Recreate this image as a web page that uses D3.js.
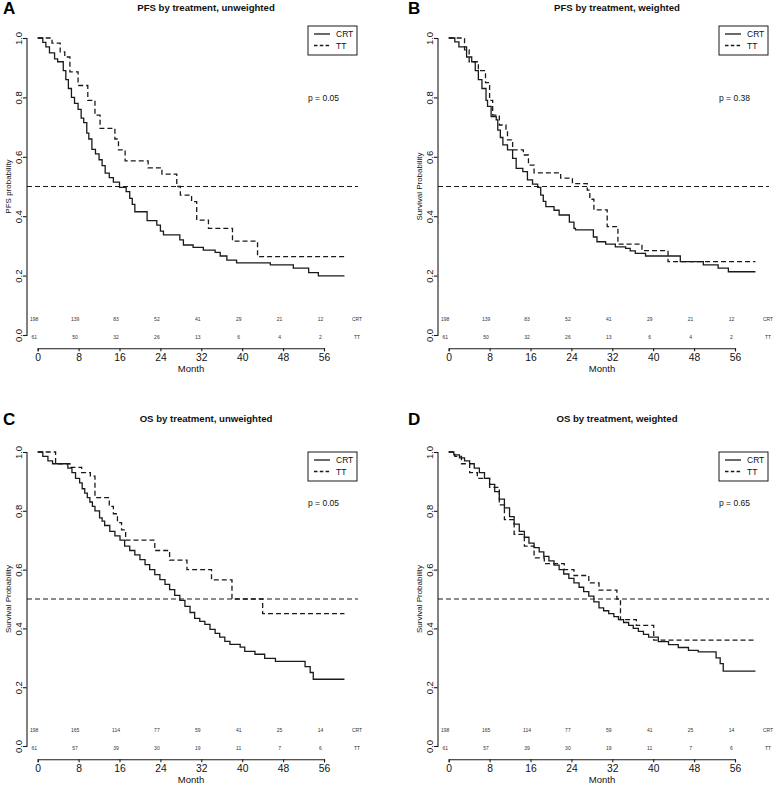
<!DOCTYPE html>
<html><head><meta charset="utf-8">
<script src="https://cdn.jsdelivr.net/npm/d3@7"></script>
<style>
body{margin:0;background:#fff;}
svg{display:block;}
text{font-family:"Liberation Sans", Arial, sans-serif; fill:#111;}
</style>
</head><body><svg id="chart" width="777" height="785"></svg>
<script>
// ---------- data ----------
const monthTicks = [0, 8, 16, 24, 32, 40, 48, 56];
const probTicks = [0, 0.2, 0.4, 0.6, 0.8, 1.0];
const panelLetters = ["A", "B", "C", "D"];
const panelTitles = ["PFS by treatment, unweighted", "PFS by treatment, weighted",
                     "OS by treatment, unweighted", "OS by treatment, weighted"];
const yAxisLabels = ["PFS probability", "Survival Probability", "Survival Probability", "Survival Probability"];
const pValues = ["p = 0.05", "p = 0.38", "p = 0.05", "p = 0.65"];
const seriesNames = ["CRT", "TT"];
const referenceLevel = 0.5;

// numbers at risk at monthTicks
const riskPFS_CRT = [198, 139, 83, 52, 41, 29, 21, 12];
const riskPFS_TT  = [61, 50, 32, 26, 13, 6, 4, 2];
const riskOS_CRT  = [198, 165, 114, 77, 59, 41, 25, 14];
const riskOS_TT   = [61, 57, 39, 30, 19, 11, 7, 6];

// Kaplan-Meier steps: [month, survival after step]
const pfsUnwCRT = [[0,1],[1,0.985],[1.6,0.97],[2.3,0.95],[3.3,0.93],[3.9,0.92],[5,0.89],[5.5,0.86],[6,0.83],[6.6,0.8],[7.2,0.78],[7.9,0.76],[8.5,0.73],[9,0.715],[9.6,0.68],[10,0.66],[10.6,0.625],[11.3,0.61],[12,0.59],[12.6,0.57],[13.2,0.545],[14,0.53],[14.8,0.515],[16,0.497],[17.3,0.483],[18,0.46],[18.5,0.44],[19,0.415],[21.4,0.385],[23.3,0.37],[24,0.35],[24.6,0.337],[27.8,0.32],[28.5,0.303],[30.4,0.295],[32.4,0.286],[34.7,0.278],[35.7,0.266],[37,0.252],[38.9,0.243],[45.5,0.236],[50,0.225],[53,0.21],[54.9,0.199],[60,0.199]];
const pfsUnwTT = [[0,1],[2.8,0.983],[4.4,0.953],[5.3,0.936],[6.3,0.886],[7.9,0.84],[9.8,0.79],[11.2,0.74],[12.2,0.696],[15.1,0.66],[15.8,0.623],[17.1,0.586],[21.6,0.563],[24.3,0.542],[27.2,0.5],[27.9,0.471],[30.1,0.449],[31.1,0.387],[33.4,0.359],[38.1,0.316],[43,0.264],[60,0.264]];
const pfsWtdCRT = [[0,1],[1.2,0.987],[2,0.97],[3.5,0.936],[4.5,0.92],[5.2,0.89],[5.8,0.86],[6.5,0.83],[7.3,0.79],[7.6,0.77],[8.3,0.735],[9.3,0.724],[9.6,0.69],[10.1,0.665],[10.6,0.64],[11.5,0.623],[12.5,0.595],[13.2,0.561],[14.5,0.55],[15.4,0.522],[16.4,0.508],[17.4,0.497],[18,0.471],[18.5,0.45],[19,0.432],[20.6,0.42],[21.6,0.404],[23.6,0.38],[24.5,0.359],[24.8,0.354],[28.3,0.33],[29,0.314],[30.7,0.306],[32.6,0.297],[34.6,0.292],[35.5,0.283],[36.5,0.275],[38.5,0.266],[45.3,0.247],[49.8,0.236],[52.7,0.225],[54.7,0.213],[60,0.213]];
const pfsWtdTT = [[0,1],[3.1,0.96],[4,0.92],[5.8,0.89],[7.2,0.85],[8,0.79],[8.6,0.74],[9.9,0.707],[11.2,0.69],[11.5,0.657],[12.5,0.623],[14.6,0.606],[15.6,0.572],[16.7,0.546],[21.9,0.528],[24.2,0.51],[27.1,0.488],[27.6,0.457],[28.4,0.421],[31,0.365],[33.1,0.306],[37.8,0.284],[42.9,0.247],[60,0.247]];
const osUnwCRT = [[0,1],[1,0.985],[2,0.97],[2.9,0.96],[5.9,0.945],[6.7,0.93],[7.4,0.91],[8.2,0.895],[8.7,0.875],[9.2,0.86],[9.7,0.845],[10.2,0.83],[10.7,0.815],[11.2,0.8],[12.1,0.776],[12.6,0.765],[13.1,0.75],[14.1,0.73],[15.1,0.715],[16.1,0.7],[17,0.68],[18,0.665],[19,0.65],[20,0.634],[21,0.617],[21.9,0.6],[22.9,0.583],[23.9,0.566],[24.9,0.55],[25.8,0.532],[26.8,0.512],[27.8,0.495],[28.8,0.475],[29.8,0.454],[30.7,0.434],[31.7,0.424],[32.7,0.414],[33.7,0.397],[34.7,0.383],[35.6,0.37],[36.6,0.356],[37.6,0.346],[39.6,0.336],[40.5,0.322],[42.5,0.312],[44.4,0.298],[46.5,0.288],[52.3,0.27],[53.3,0.25],[53.9,0.227],[60,0.227]];
const osUnwTT = [[0,1],[3.5,0.96],[6.3,0.948],[8.6,0.93],[10.3,0.918],[11.2,0.845],[14,0.815],[14.8,0.79],[15.6,0.76],[16.4,0.735],[17.2,0.7],[22.9,0.665],[25.8,0.632],[29.2,0.6],[34,0.565],[38,0.5],[44,0.45],[60,0.45]];
const osWtdCRT = [[0,1],[1,0.99],[2.1,0.98],[3.1,0.97],[4.1,0.96],[5,0.945],[6,0.93],[7,0.91],[8,0.89],[9,0.865],[9.9,0.84],[10.9,0.81],[11.9,0.78],[12.8,0.755],[13.8,0.73],[14.8,0.71],[15.7,0.69],[16.7,0.675],[17.7,0.66],[18.6,0.645],[19.6,0.63],[20.6,0.615],[21.6,0.6],[22.5,0.585],[23.5,0.57],[24.5,0.555],[25.5,0.54],[26.4,0.525],[27.4,0.51],[28.4,0.49],[29.4,0.47],[30.3,0.46],[31.3,0.45],[32.3,0.44],[33.2,0.43],[34.2,0.42],[35.2,0.41],[36.1,0.4],[37.1,0.39],[38.1,0.38],[39.1,0.37],[41,0.355],[43,0.345],[44.9,0.335],[46.9,0.325],[48.8,0.32],[52.3,0.3],[53.1,0.28],[53.7,0.255],[60,0.255]];
const osWtdTT = [[0,1],[1.2,0.985],[2.5,0.96],[4.1,0.93],[5.6,0.91],[8,0.88],[9.9,0.82],[10.9,0.77],[12.8,0.72],[14.8,0.68],[16.7,0.64],[18.7,0.62],[22.6,0.6],[24.5,0.58],[27.4,0.555],[29.4,0.53],[32.9,0.5],[33.6,0.43],[36.7,0.41],[40.1,0.36],[60,0.36]];

const panelCRT = [pfsUnwCRT, pfsWtdCRT, osUnwCRT, osWtdCRT];
const panelTT  = [pfsUnwTT, pfsWtdTT, osUnwTT, osWtdTT];
const panelRiskCRT = [riskPFS_CRT, riskPFS_CRT, riskOS_CRT, riskOS_CRT];
const panelRiskTT  = [riskPFS_TT, riskPFS_TT, riskOS_TT, riskOS_TT];

// ---------- drawing ----------
const svg = d3.select("#chart");
const INK = "#1a1a1a";
const DASH = "5,3";

const x = d3.scaleLinear().domain([0, 56]).range([37.7, 324]);
// row-specific vertical scales (in panel-local coordinates)
const yRows = [
  d3.scaleLinear().domain([0, 1]).range([335, 38]),
  d3.scaleLinear().domain([0, 1]).range([335, 41])
];
const legendTop = [26, 41];
const pY = [101, 95];

const colOffset = [0, 411];
const rowOffset = [0, 411];
const letterX = [3, 408];

panelLetters.forEach((L, i) => {
  const col = i % 2, row = Math.floor(i / 2);
  const y = yRows[row];
  const line = d3.line().x(d => x(d[0])).y(d => y(d[1])).curve(d3.curveStepAfter);
  const g = svg.append("g").attr("transform", `translate(${colOffset[col]},${rowOffset[row]})`);

  // panel letter
  svg.append("text").attr("x", letterX[col]).attr("y", rowOffset[row] + 14)
    .attr("font-size", 17).attr("font-weight", "bold").style("fill", "#000").text(L);

  // title
  g.append("text").attr("x", 206).attr("y", 11).attr("text-anchor", "middle")
    .attr("font-size", 9.6).attr("font-weight", "bold").text(panelTitles[i]);

  // y axis
  const ya = g.append("g").attr("transform", "translate(26.5,0)")
    .call(d3.axisLeft(y).tickValues(probTicks).tickSize(3.5).tickFormat(d3.format(".1f")));
  ya.select(".domain").attr("stroke", INK).attr("stroke-width", 1.1);
  ya.selectAll(".tick line").attr("stroke", INK).attr("stroke-width", 1.1);
  ya.selectAll(".tick text").attr("x", 0).attr("dy", 0)
    .attr("transform", "translate(-4.5,0) rotate(-90)")
    .attr("text-anchor", "middle").attr("font-size", 9.5).style("fill", "#111")
    .attr("font-family", '"Liberation Sans", Arial, sans-serif');

  // x axis
  const xa = g.append("g").attr("transform", "translate(0,348.3)")
    .call(d3.axisBottom(x).tickValues(monthTicks).tickSize(3).tickPadding(2));
  xa.select(".domain").attr("stroke", INK).attr("stroke-width", 1.1);
  xa.selectAll(".tick line").attr("stroke", INK).attr("stroke-width", 1.1);
  xa.selectAll(".tick text").attr("font-size", 10.3).style("fill", "#111")
    .attr("font-family", '"Liberation Sans", Arial, sans-serif');

  // axis titles
  g.append("text").attr("x", 191).attr("y", 372).attr("text-anchor", "middle")
    .attr("font-size", 9.5).text("Month");
  g.append("text").attr("transform", `translate(11,${(y(0) + y(1)) / 2}) rotate(-90)`)
    .attr("text-anchor", "middle").attr("font-size", 8).text(yAxisLabels[i]);

  // reference line at 0.5
  g.append("line").attr("x1", 27).attr("x2", 358)
    .attr("y1", y(referenceLevel)).attr("y2", y(referenceLevel))
    .attr("stroke", INK).attr("stroke-width", 1.2).attr("stroke-dasharray", DASH);

  // curves
  g.append("path").datum(panelCRT[i]).attr("d", line).attr("fill", "none")
    .attr("stroke", INK).attr("stroke-width", 1.3);
  g.append("path").datum(panelTT[i]).attr("d", line).attr("fill", "none")
    .attr("stroke", INK).attr("stroke-width", 1.3).attr("stroke-dasharray", DASH);

  // legend
  const lt = legendTop[row];
  const lg = g.append("g");
  lg.append("rect").attr("x", 308).attr("y", lt).attr("width", 49).attr("height", 29)
    .attr("fill", "#fff").attr("stroke", INK).attr("stroke-width", 1);
  [0, 1].forEach(k => {
    const ly = lt + 8 + k * 11.5;
    lg.append("line").attr("x1", 314).attr("x2", 330).attr("y1", ly).attr("y2", ly)
      .attr("stroke", INK).attr("stroke-width", 1.3)
      .attr("stroke-dasharray", k === 1 ? "3.5,2.3" : null);
    lg.append("text").attr("x", 336).attr("y", ly + 3).attr("font-size", 8.5).text(seriesNames[k]);
  });

  // p-value
  g.append("text").attr("x", 308).attr("y", pY[row]).attr("font-size", 8.5).text(pValues[i]);

  // numbers at risk
  const riskRows = [panelRiskCRT[i], panelRiskTT[i]];
  const riskY = [319, 337];
  riskRows.forEach((arr, r) => {
    g.selectAll(null).data(arr).enter().append("text")
      .attr("x", (d, j) => x(monthTicks[j]) - 3.5).attr("y", riskY[r] + 1.8)
      .attr("text-anchor", "middle").attr("font-size", 5).style("fill", "#333").text(d => d);
    g.append("text").attr("x", 357).attr("y", riskY[r] + 1.8).attr("text-anchor", "middle")
      .attr("font-size", 5).style("fill", "#333").text(seriesNames[r]);
  });
});
</script>
</body></html>
